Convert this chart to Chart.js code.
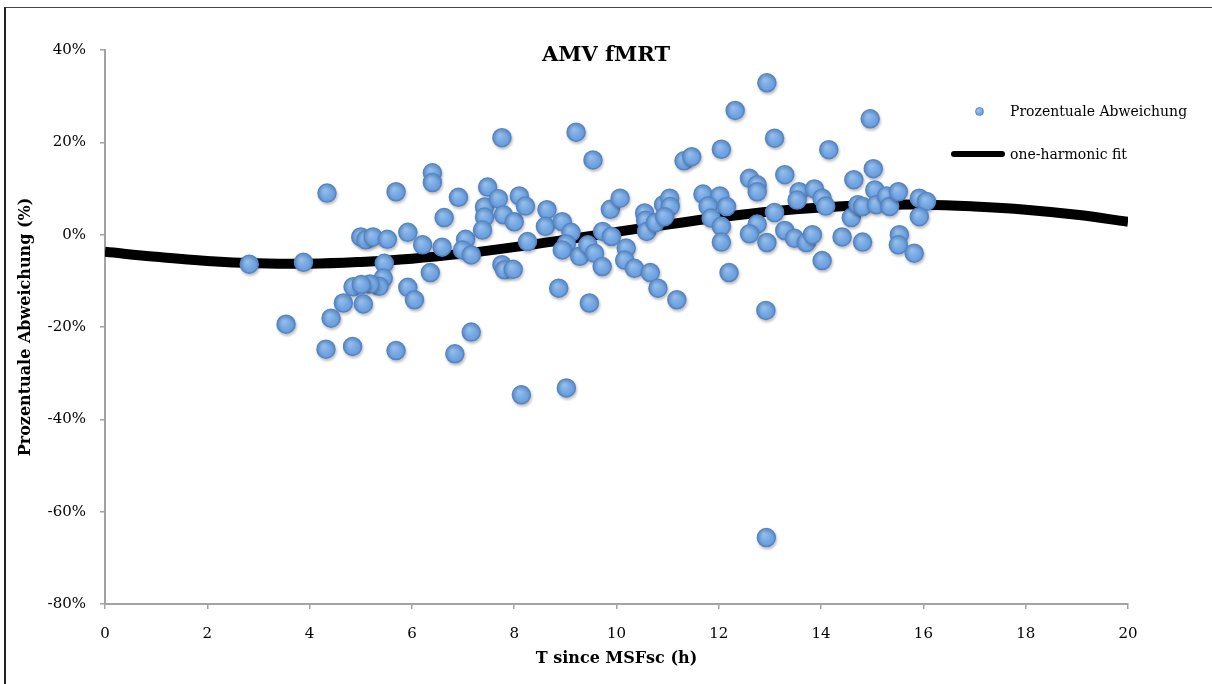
<!DOCTYPE html>
<html>
<head>
<meta charset="utf-8">
<script src="https://cdn.jsdelivr.net/npm/chart.js@4.4.1/dist/chart.umd.min.js"></script>
<style>
  html, body { margin: 0; padding: 0; background: #fff; }
  #wrap { position: relative; width: 1212px; height: 684px; overflow: hidden; font-family: "DejaVu Serif", "Liberation Serif", serif; }
  #frame { position: absolute; left: 4px; top: 7px; width: 1300px; height: 800px; border-left: 2px solid #222; border-top: 1px solid #444; pointer-events: none; }
  #title { position: absolute; left: 0; width: 1212px; top: 41px; text-align: center; font-weight: bold; font-size: 21px; color: #000; }
  .leg { position: absolute; font-size: 14px; color: #000; white-space: nowrap; line-height: 16px; }
  #legDot { position: absolute; left: 975px; top: 107px; width: 9px; height: 9px; border-radius: 50%; background: radial-gradient(circle at 35% 30%, #9cc4ef, #74a7e3 60%, #6598d8); border: 1px solid #5585c6; box-sizing: border-box; }
  #legLine { position: absolute; left: 951px; top: 151px; width: 54px; height: 6px; border-radius: 3px; background: #000; }
  canvas { position: absolute; left: 0; top: 0; }
</style>
</head>
<body>
<div id="wrap">
  <canvas id="chart" width="1212" height="684"></canvas>
  <div id="frame"></div>
  <div id="title">AMV fMRT</div>
  <div id="legDot"></div>
  <div class="leg" style="left:1010px; top:103px;">Prozentuale Abweichung</div>
  <div id="legLine"></div>
  <div class="leg" style="left:1010px; top:146px;">one-harmonic fit</div>
</div>
<script>
// ---- data ----
const sampleHours = [
  6.40,6.40,4.34,5.69,6.91,6.63,5.92,5.00,5.10,5.24,5.52,6.21,6.59,7.05,6.99,7.16,2.82,3.88,5.46,5.44,
  5.36,5.18,4.85,5.01,5.92,6.05,6.36,4.66,5.05,4.42,3.54,4.32,4.84,5.69,6.84,7.16,
  7.76,9.21,9.54,11.32,11.47,7.48,7.42,7.42,7.38,7.69,7.79,8.00,8.10,8.22,8.26,7.76,7.81,7.98,8.64,8.61,
  8.94,9.11,9.02,8.94,9.28,9.44,9.57,9.72,9.73,9.90,9.88,10.07,10.19,10.16,10.35,10.66,10.81,11.18,10.55,10.57,
  10.59,10.76,10.92,11.04,11.05,10.94,8.87,9.47,8.14,9.02,
  12.94,12.32,14.96,13.09,12.05,14.15,15.02,14.64,12.60,12.75,12.75,13.29,11.69,12.02,11.79,12.15,11.85,12.05,12.05,12.20,
  12.92,13.09,12.75,12.60,12.94,13.57,13.53,13.87,14.02,14.09,13.29,13.48,13.71,13.83,14.02,14.41,14.81,14.59,14.72,14.81,
  15.05,15.08,15.28,15.34,15.51,15.53,15.51,15.82,15.92,16.06,15.92,12.93
];
const sampleDeviation = [
  13.4,11.3,9.0,9.3,8.1,3.7,0.5,-0.5,-1.1,-0.5,-1.0,-2.2,-2.7,-1.0,-3.3,-4.4,-6.4,-6.0,-6.2,-9.4,
  -11.2,-10.7,-11.3,-10.8,-11.4,-14.1,-8.2,-14.8,-15.0,-18.1,-19.4,-24.8,-24.2,-25.1,-25.8,-21.1,
  21.0,22.2,16.2,16.0,16.9,10.3,6.0,3.8,1.0,7.8,4.3,2.8,8.4,6.2,-1.5,-6.5,-7.6,-7.5,5.4,1.8,
  2.8,0.5,-2.0,-3.3,-4.7,-2.2,-4.0,-6.9,0.7,-0.4,5.5,7.9,-2.9,-5.5,-7.3,-8.2,-11.6,-14.1,4.7,3.1,
  0.7,2.6,6.5,7.9,6.1,3.9,-11.6,-14.8,-34.7,-33.2,
  32.9,26.9,25.1,20.9,18.5,18.4,14.3,11.9,12.2,10.8,9.3,13.0,8.8,8.4,6.2,6.1,3.6,1.8,-1.6,-8.2,
  -16.4,4.8,2.3,0.2,-1.7,9.3,7.5,9.9,7.9,6.2,0.9,-0.8,-1.7,0.0,-5.6,-0.5,-1.6,3.7,6.5,6.1,
  9.7,6.5,8.4,6.1,9.3,0.0,-2.2,-4.0,7.9,7.2,3.9,-65.6
];
const fitHours = [0,1,2,3,4,5,6,7,8,9,10,11,12,13,14,15,16,17,18,19,20];
const fitValues = [-3.7,-4.8,-5.7,-6.2,-6.3,-5.9,-5.2,-4.1,-2.7,-1.1,0.6,2.2,3.7,5.0,5.9,6.4,6.5,6.1,5.4,4.3,2.8];
const xTicks = [0,2,4,6,8,10,12,14,16,18,20];
const yTicks = [-80,-60,-40,-20,0,20,40];
const seriesNames = ['Prozentuale Abweichung', 'one-harmonic fit'];
const axisTitles = { x: 'T since MSFsc (h)', y: 'Prozentuale Abweichung (%)' };

const scatterPoints = sampleHours.map((h, i) => ({ x: h, y: sampleDeviation[i] }));
const fitPoints = fitHours.map((h, i) => ({ x: h, y: fitValues[i] }));

const FONT = '"DejaVu Serif", "Liberation Serif", serif';
const axisGray = '#a3a3a3';

// softly shaded bubble fill, centred on each point's own pixel position
function bubbleFill(ctx) {
  const chart = ctx.chart;
  const sx = chart.scales.x, sy = chart.scales.y;
  if (!sx || !sy || !ctx.raw || sx.width === undefined) return '#72a5e2';
  const px = sx.getPixelForValue(ctx.raw.x);
  const py = sy.getPixelForValue(ctx.raw.y);
  if (!isFinite(px) || !isFinite(py)) return '#72a5e2';
  const g = chart.ctx.createRadialGradient(px - 3, py - 4, 0, px, py, 10);
  g.addColorStop(0, '#9cc4ef');
  g.addColorStop(0.6, '#74a7e3');
  g.addColorStop(1, '#6598d8');
  return g;
}

const bubbleShadow = {
  id: 'bubbleShadow',
  beforeDatasetDraw(chart, args) {
    if (args.index !== 0) return;
    const c = chart.ctx;
    c.save();
    c.shadowColor = 'rgba(0,0,0,0.22)';
    c.shadowBlur = 3;
    c.shadowOffsetX = 1;
    c.shadowOffsetY = 2;
  },
  afterDatasetDraw(chart, args) {
    if (args.index !== 0) return;
    chart.ctx.restore();
  }
};

new Chart(document.getElementById('chart'), {
  type: 'scatter',
  data: {
    datasets: [
      {
        label: seriesNames[0],
        data: scatterPoints,
        order: 0,
        pointRadius: 9,
        pointHoverRadius: 9,
        backgroundColor: bubbleFill,
        borderColor: '#5585c6',
        borderWidth: 1.5
      },
      {
        label: seriesNames[1],
        type: 'line',
        data: fitPoints,
        order: 1,
        showLine: true,
        borderColor: '#000',
        borderWidth: 10,
        pointRadius: 0,
        tension: 0.4,
        fill: false
      }
    ]
  },
  plugins: [bubbleShadow],
  options: {
    responsive: false,
    animation: false,
    layout: { padding: { left: 0, right: 84, top: 50, bottom: 0 } },
    plugins: {
      legend: { display: false },
      tooltip: { enabled: false },
      title: { display: false }
    },
    scales: {
      x: {
        type: 'linear',
        min: 0, max: 20,
        afterBuildTicks: s => { s.ticks = xTicks.map(v => ({ value: v })); },
        afterFit: s => { s.height = 80; },
        grid: { display: true, drawOnChartArea: false, drawTicks: true, tickLength: 5, color: axisGray, lineWidth: 1.5 },
        border: { display: true, color: axisGray, width: 2 },
        ticks: { color: '#000', font: { family: FONT, size: 15 }, padding: 16, maxRotation: 0 },
        title: { display: true, text: axisTitles.x, color: '#000', font: { family: FONT, size: 16, weight: 'bold' }, padding: { top: 0, bottom: 16 } }
      },
      y: {
        type: 'linear',
        min: -80, max: 40,
        afterBuildTicks: s => { s.ticks = yTicks.map(v => ({ value: v })); },
        afterFit: s => { s.width = 105; },
        grid: { display: true, drawOnChartArea: false, drawTicks: true, tickLength: 5, color: axisGray, lineWidth: 1.5 },
        border: { display: true, color: axisGray, width: 2 },
        ticks: { color: '#000', font: { family: FONT, size: 15 }, padding: 14, callback: v => v + '%' },
        title: { display: true, text: axisTitles.y, color: '#000', font: { family: FONT, size: 16, weight: 'bold' }, padding: { top: 16, bottom: 0 } }
      }
    }
  }
});
</script>
</body>
</html>
